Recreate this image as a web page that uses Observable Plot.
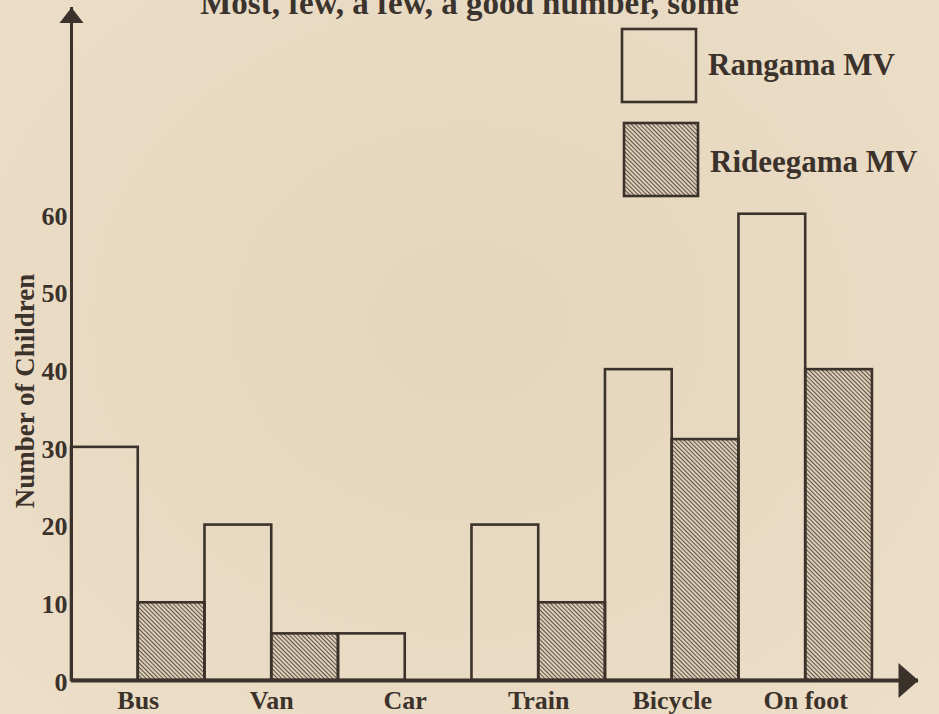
<!DOCTYPE html>
<html>
<head>
<meta charset="utf-8">
<script src="https://cdn.jsdelivr.net/npm/d3@7"></script>
<script src="https://cdn.jsdelivr.net/npm/@observablehq/plot@0.6"></script>
<style>
  html, body { margin: 0; padding: 0; background: #e8d9c1; }
  #wrap {
    position: relative; width: 939px; height: 714px; overflow: hidden;
    background: radial-gradient(ellipse at 50% 45%, #e5d5bc 0%, #e9dac3 60%, #ecdec8 100%);
    font-family: "Liberation Serif", "Times New Roman", serif; font-weight: bold; color: #3b332d;
  }
  #title {
    position: absolute; left: 0; top: -13px; width: 939px; text-align: center;
    font-size: 33px; line-height: 1; white-space: nowrap;
  }
  #legend { position: absolute; left: 0; top: 0; }
  #chart { position: absolute; left: 0; top: 0; }
</style>
</head>
<body>
<div id="wrap">
  <svg width="0" height="0" style="position:absolute">
    <defs>
      <pattern id="hatch" patternUnits="userSpaceOnUse" width="3" height="3" patternTransform="rotate(-45)">
        <rect width="3" height="3" fill="#dccdb6"></rect>
        <line x1="1.5" y1="-1" x2="1.5" y2="4" stroke="#5c5248" stroke-width="1.0"></line>
      </pattern>
    </defs>
  </svg>
  <div id="chart"></div>
  <div id="title"></div>
  <svg id="legend" width="939" height="714"></svg>
</div>
<script>
// ---- data ----
const categories = ["Bus", "Van", "Car", "Train", "Bicycle", "On foot"];
const rangama    = [30, 20, 6, 20, 40, 60];
const rideegama  = [10, 6, 0, 10, 31, 40];
const seriesNames = ["Rangama MV", "Rideegama MV"];
const yTicks = [0, 10, 20, 30, 40, 50, 60];
const titleText = "Most, few, a few, a good number, some";
const yLabel = "Number of Children";

// ---- table built from arrays ----
const rows = [];
categories.forEach((c, i) => {
  rows.push({category: c, series: seriesNames[0], value: rangama[i], x1: 2 * i, x2: 2 * i + 1});
  rows.push({category: c, series: seriesNames[1], value: rideegama[i], x1: 2 * i + 1, x2: 2 * i + 2});
});
const labels = categories.map((c, i) => ({category: c, x: 2 * i + 1}));

const ink = "#3b322b";
const xMax = 12.69;   // axis extent (arrow beyond last bar)
const yMax = 86.6;    // axis extent (arrow above 60)

const arrowUp = {draw(ctx) { ctx.moveTo(0, 0); ctx.lineTo(12, 15.5); ctx.lineTo(-12, 15.5); ctx.closePath(); }};
const arrowRight = {draw(ctx) { ctx.moveTo(0, 0); ctx.lineTo(-20, -17.5); ctx.lineTo(-20, 17.5); ctx.closePath(); }};

const chart = Plot.plot({
  width: 939,
  height: 714,
  marginLeft: 71,
  marginRight: 21,
  marginTop: 7,
  marginBottom: 34,
  style: {background: "transparent", color: ink, fontFamily: "'Liberation Serif', 'Times New Roman', serif", fontWeight: "bold"},
  x: {type: "linear", domain: [0, xMax], axis: null},
  y: {domain: [0, yMax], axis: null},
  marks: [
    Plot.rect(rows.filter(d => d.series === seriesNames[1] && d.value > 0),
      {x1: "x1", x2: "x2", y1: 0, y2: "value", fill: "url(#hatch)", stroke: ink, strokeWidth: 2.6}),
    Plot.rect(rows.filter(d => d.series === seriesNames[0] && d.value > 0),
      {x1: "x1", x2: "x2", y1: 0, y2: "value", fill: "none", stroke: ink, strokeWidth: 2.6}),
    Plot.ruleX([0], {stroke: ink, strokeWidth: 3}),
    Plot.ruleY([0], {stroke: ink, strokeWidth: 4}),
    Plot.dot([0], {frameAnchor: "top-left", symbol: arrowUp, fill: ink, stroke: "none"}),
    Plot.dot([0], {frameAnchor: "bottom-right", symbol: arrowRight, fill: ink, stroke: "none"}),
    Plot.text(yTicks, {y: d => d, text: d => String(d), frameAnchor: "left", textAnchor: "end",
      lineAnchor: "middle", dx: -4, dy: 2, fontSize: 26, fill: ink}),
    Plot.text(labels, {x: "x", text: "category", frameAnchor: "bottom", textAnchor: "middle",
      lineAnchor: "middle", dy: 20, fontSize: 26, fill: ink}),
    Plot.text([yLabel], {text: d => d, frameAnchor: "left", textAnchor: "middle", lineAnchor: "middle",
      rotate: -90, dx: -46, dy: 47, fontSize: 27, fill: ink})
  ]
});
document.getElementById("chart").appendChild(chart);
document.getElementById("title").textContent = titleText;

// ---- legend ----
const lg = d3.select("#legend");
const legendItems = [
  {name: seriesNames[0], fill: "none", bx: 622, by: 29, bw: 74, bh: 73, tx: 708, ty: 75},
  {name: seriesNames[1], fill: "url(#hatch)", bx: 624, by: 123, bw: 74, bh: 73, tx: 710, ty: 172}
];
legendItems.forEach(d => {
  lg.append("rect").attr("x", d.bx).attr("y", d.by).attr("width", d.bw).attr("height", d.bh)
    .attr("fill", d.fill).attr("stroke", ink).attr("stroke-width", 2.6);
  lg.append("text").attr("x", d.tx).attr("y", d.ty).text(d.name)
    .attr("font-family", "'Liberation Serif', 'Times New Roman', serif").attr("font-weight", "bold")
    .attr("font-size", 31).attr("fill", ink);
});
</script>
</body>
</html>
